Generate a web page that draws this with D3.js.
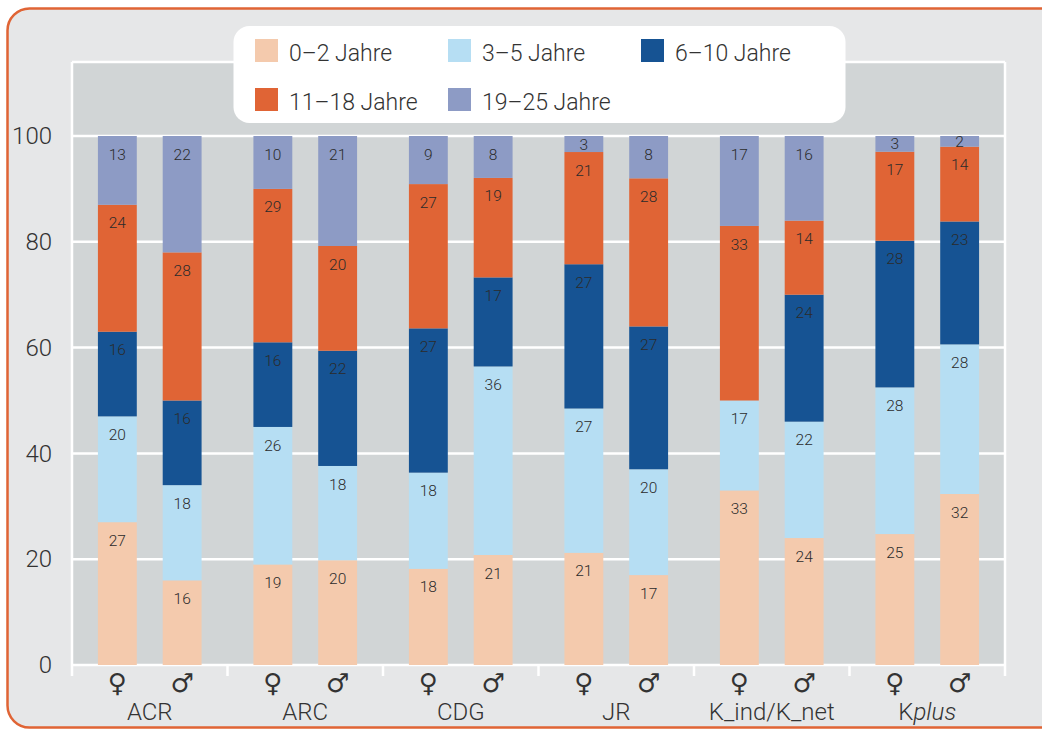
<!DOCTYPE html>
<html>
<head>
<meta charset="utf-8">
<script src="https://cdn.jsdelivr.net/npm/d3@7"></script>
<style>
  html, body { margin: 0; padding: 0; background: #ffffff; }
  svg { display: block; }
</style>
</head>
<body>
<svg id="chart" width="1042" height="729"></svg>
<script>
// Programme groups and sexes along the x axis
const groups = ["ACR", "ARC", "CDG", "JR", "K_ind/K_net", "Kplus"];
const sexes = ["♀", "♂"];

// Age classes (stack order, bottom to top)
const ageClasses = ["0–2 Jahre", "3–5 Jahre", "6–10 Jahre", "11–18 Jahre", "19–25 Jahre"];
const ageColors = ["#f4caad", "#b6def3", "#165393", "#e06435", "#8d9bc5"];

// Shares in percent, one value per group × sex (♀, ♂ for each group in order)
const age0_2   = [27, 16, 19, 20, 18, 21, 21, 17, 33, 24, 25, 32];
const age3_5   = [20, 18, 26, 18, 18, 36, 27, 20, 17, 22, 28, 28];
const age6_10  = [16, 16, 16, 22, 27, 17, 27, 27,  0, 24, 28, 23];
const age11_18 = [24, 28, 29, 20, 27, 19, 21, 28, 33, 14, 17, 14];
const age19_25 = [13, 22, 10, 21,  9,  8,  3,  8, 17, 16,  3,  2];

const yTicks = [0, 20, 40, 60, 80, 100];

const series = [age0_2, age3_5, age6_10, age11_18, age19_25];

const FONT = "Roboto, 'Liberation Sans', sans-serif";
const FONT_WEIGHT = 300;

// Build rows for the stack
const rows = [];
groups.forEach((g, gi) => {
  sexes.forEach((s, si) => {
    const i = gi * 2 + si;
    const row = { group: g, sex: s };
    ageClasses.forEach((a, ai) => { row[a] = series[ai][i]; });
    rows.push(row);
  });
});

const svg = d3.select("#chart");
const W = 1042, H = 729;

const plot = { left: 72, right: 1005, top: 62, zero: 665, hundred: 136 };

// Frame
svg.append("rect").attr("width", W).attr("height", H).attr("fill", "#ffffff");
svg.append("rect")
  .attr("x", 7.5).attr("y", 8.5)
  .attr("width", W + 30).attr("height", 719)
  .attr("rx", 22).attr("ry", 22)
  .attr("fill", "#e6e7e8")
  .attr("stroke", "#e06435").attr("stroke-width", 2.5);

// Scales
const x0 = d3.scaleBand().domain(groups).range([plot.left, plot.right]).paddingInner(0).paddingOuter(0);
const x1 = d3.scaleBand().domain(sexes).range([0, x0.bandwidth()]).paddingInner(0.4).paddingOuter(0.4);
const y = d3.scaleLinear().domain([0, 100]).range([plot.zero, plot.hundred]);
const color = d3.scaleOrdinal().domain(ageClasses).range(ageColors);

// Plot background
svg.append("rect")
  .attr("x", plot.left).attr("y", plot.top)
  .attr("width", plot.right - plot.left).attr("height", plot.zero - plot.top)
  .attr("fill", "#d1d5d6");

// Grid lines
svg.append("g")
  .selectAll("line")
  .data(yTicks)
  .join("line")
  .attr("x1", plot.left).attr("x2", plot.right)
  .attr("y1", d => y(d)).attr("y2", d => y(d))
  .attr("stroke", "#ffffff").attr("stroke-width", 2.5);
svg.append("line")
  .attr("x1", plot.left).attr("x2", plot.right)
  .attr("y1", plot.top).attr("y2", plot.top)
  .attr("stroke", "#ffffff").attr("stroke-width", 2.5);

// Stacked bars, normalised to 100 %
const stack = d3.stack().keys(ageClasses).offset(d3.stackOffsetExpand);
const stacked = stack(rows);

const layers = svg.append("g").selectAll("g")
  .data(stacked)
  .join("g")
  .attr("fill", d => color(d.key));

layers.selectAll("rect")
  .data(d => d)
  .join("rect")
  .attr("x", d => x0(d.data.group) + x1(d.data.sex))
  .attr("width", x1.bandwidth())
  .attr("y", d => y(d[1] * 100))
  .attr("height", d => y(d[0] * 100) - y(d[1] * 100));

// Value labels near the top of each segment
const labels = svg.append("g")
  .attr("font-family", FONT)
  .attr("font-weight", FONT_WEIGHT)
  .attr("font-size", 15.5)
  .attr("fill", "#2b2b2b")
  .attr("text-anchor", "middle");
stacked.forEach(layer => {
  layer.forEach(d => {
    const v = d.data[layer.key];
    if (!v) return;
    const top = y(d[1] * 100), bottom = y(d[0] * 100);
    const h = bottom - top;
    const cy = top + Math.min(18, h / 2);
    labels.append("text")
      .attr("x", x0(d.data.group) + x1(d.data.sex) + x1.bandwidth() / 2)
      .attr("y", cy)
      .attr("dy", "0.36em")
      .text(v);
  });
});

// Axis frame: side lines and group separators
const axisG = svg.append("g").attr("stroke", "#ffffff").attr("stroke-width", 2.5);
axisG.append("line").attr("x1", plot.left).attr("x2", plot.left).attr("y1", plot.top).attr("y2", plot.zero + 11);
axisG.append("line").attr("x1", plot.right).attr("x2", plot.right).attr("y1", plot.top).attr("y2", plot.zero + 11);
axisG.selectAll("line.sep")
  .data(groups.slice(1))
  .join("line")
  .attr("class", "sep")
  .attr("x1", d => x0(d)).attr("x2", d => x0(d))
  .attr("y1", plot.zero).attr("y2", plot.zero + 11);

// Y axis labels
const yAxis = d3.axisLeft(y).tickValues(yTicks).tickSize(0).tickPadding(0);
const yg = svg.append("g")
  .attr("transform", `translate(${plot.left - 20},0)`)
  .call(yAxis);
yg.select(".domain").remove();
yg.selectAll("text")
  .attr("font-family", FONT)
  .attr("font-weight", FONT_WEIGHT)
  .attr("font-size", 24)
  .attr("fill", "#333333");

// Sex symbols
const sexG = svg.append("g")
  .attr("font-family", "'DejaVu Sans', sans-serif")
  .attr("font-size", 26)
  .attr("fill", "#333333")
  .attr("text-anchor", "middle");
groups.forEach(g => {
  sexes.forEach(s => {
    sexG.append("text")
      .attr("x", x0(g) + x1(s) + x1.bandwidth() / 2)
      .attr("y", 692)
      .text(s);
  });
});

// Group labels
const grpG = svg.append("g")
  .attr("font-family", FONT)
  .attr("font-weight", FONT_WEIGHT)
  .attr("font-size", 24)
  .attr("fill", "#333333")
  .attr("text-anchor", "middle");
groups.forEach(g => {
  const t = grpG.append("text")
    .attr("x", x0(g) + x0.bandwidth() / 2)
    .attr("y", 720);
  if (g === "Kplus") {
    t.append("tspan").text("K");
    t.append("tspan").attr("font-style", "italic").text("plus");
  } else {
    t.text(g);
  }
});

// Legend
const legend = svg.append("g");
legend.append("rect")
  .attr("x", 233.5).attr("y", 26)
  .attr("width", 612).attr("height", 97)
  .attr("rx", 16).attr("ry", 16)
  .attr("fill", "#ffffff");
const legendPos = [
  [255, 39], [448, 39], [641, 39],
  [255, 88], [448, 88]
];
ageClasses.forEach((a, i) => {
  const [lx, ly] = legendPos[i];
  legend.append("rect")
    .attr("x", lx).attr("y", ly)
    .attr("width", 23).attr("height", 23)
    .attr("fill", color(a));
  legend.append("text")
    .attr("x", lx + 34).attr("y", ly + 14)
    .attr("dy", "0.36em")
    .attr("font-family", FONT)
    .attr("font-weight", FONT_WEIGHT)
    .attr("font-size", 23)
    .attr("fill", "#333333")
    .text(a);
});
</script>
</body>
</html>
